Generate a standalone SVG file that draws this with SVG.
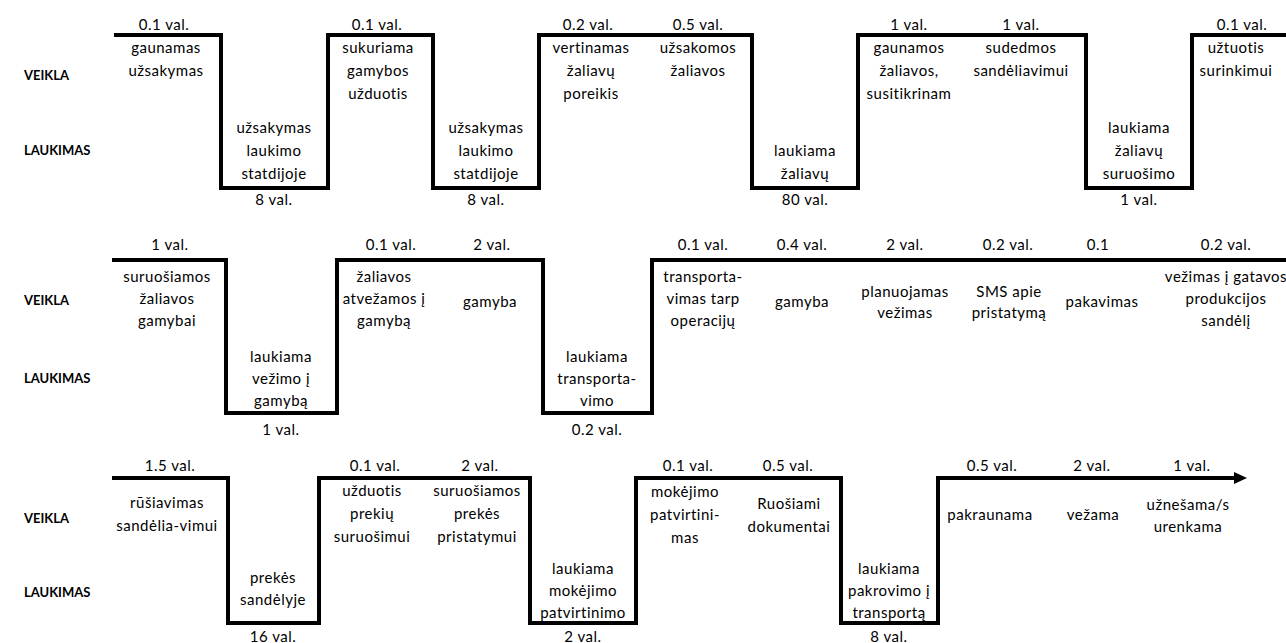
<svg xmlns="http://www.w3.org/2000/svg" width="1286" height="643" viewBox="0 0 1286 643">
  <style>
    .t { font-family: Lato, "Open Sans", "Liberation Sans", sans-serif; font-size: 15px; letter-spacing: 0.5px; fill: #000; text-anchor: middle; }
    .h { font-family: Lato, "Open Sans", "Liberation Sans", sans-serif; font-size: 13px; font-weight: bold; fill: #000; }
    .flow { fill: none; stroke: #000; stroke-width: 4; stroke-linejoin: miter; stroke-linecap: butt; }
  </style>
  <defs>
    <marker id="arrow" viewBox="0 0 13 12" refX="0" refY="6" markerWidth="13" markerHeight="12" orient="auto" markerUnits="userSpaceOnUse">
      <path d="M0,0 L13,6 L0,12 Z" fill="#000"/>
    </marker>
  </defs>
  <rect width="1286" height="643" fill="#fff"/>

  <!-- step lines: high = activity, low = waiting -->
  <g id="connectors">
    <path class="flow" d="M114,35 H221 V188 H328 V35 H433 V188 H539 V35 H752 V188 H858 V35 H1086 V188 H1192 V35 H1286"/>
    <path class="flow" d="M112,260 H226 V413 H337 V260 H543 V413 H652 V260 H1286"/>
    <path class="flow" d="M112,478 H228 V623 H319 V478 H530 V623 H636 V478 H841 V623 H938 V478 H1234" marker-end="url(#arrow)"/>
  </g>

  <!-- row labels -->
  <g id="labels">
    <text class="h" x="24" y="80">VEIKLA</text>
    <text class="h" x="24" y="155">LAUKIMAS</text>
    <text class="h" x="24" y="305">VEIKLA</text>
    <text class="h" x="24" y="383">LAUKIMAS</text>
    <text class="h" x="24" y="523">VEIKLA</text>
    <text class="h" x="24" y="597">LAUKIMAS</text>
  </g>

  <!-- row 1 -->
  <g id="r1s1"><text class="t" x="164" y="30">0.1 val.</text>
    <text class="t" x="166" y="53">gaunamas<tspan x="166" dy="23">užsakymas</tspan></text></g>
  <g id="r1w1"><text class="t" x="274" y="133">užsakymas<tspan x="274" dy="23">laukimo</tspan><tspan x="274" dy="23">statdijoje</tspan></text>
    <text class="t" x="274" y="205">8 val.</text></g>
  <g id="r1s2"><text class="t" x="377" y="30">0.1 val.</text>
    <text class="t" x="378" y="53">sukuriama<tspan x="378" dy="23">gamybos</tspan><tspan x="378" dy="23">užduotis</tspan></text></g>
  <g id="r1w2"><text class="t" x="486" y="133">užsakymas<tspan x="486" dy="23">laukimo</tspan><tspan x="486" dy="23">statdijoje</tspan></text>
    <text class="t" x="486" y="205">8 val.</text></g>
  <g id="r1s3"><text class="t" x="588" y="30">0.2 val.</text>
    <text class="t" x="591" y="53">vertinamas<tspan x="591" dy="23">žaliavų</tspan><tspan x="591" dy="23">poreikis</tspan></text></g>
  <g id="r1s4"><text class="t" x="698" y="30">0.5 val.</text>
    <text class="t" x="698" y="53">užsakomos<tspan x="698" dy="23">žaliavos</tspan></text></g>
  <g id="r1w3"><text class="t" x="805" y="156">laukiama<tspan x="805" dy="23">žaliavų</tspan></text>
    <text class="t" x="805" y="205">80 val.</text></g>
  <g id="r1s5"><text class="t" x="909" y="30">1 val.</text>
    <text class="t" x="909" y="53">gaunamos<tspan x="909" dy="23">žaliavos,</tspan><tspan x="909" dy="23">susitikrinam</tspan></text></g>
  <g id="r1s6"><text class="t" x="1021" y="30">1 val.</text>
    <text class="t" x="1021" y="53">sudedmos<tspan x="1021" dy="23">sandėliavimui</tspan></text></g>
  <g id="r1w4"><text class="t" x="1139" y="133">laukiama<tspan x="1139" dy="23">žaliavų</tspan><tspan x="1139" dy="23">suruošimo</tspan></text>
    <text class="t" x="1139" y="205">1 val.</text></g>
  <g id="r1s7"><text class="t" x="1242" y="30">0.1 val.</text>
    <text class="t" x="1236" y="53">užtuotis<tspan x="1236" dy="23">surinkimui</tspan></text></g>

  <!-- row 2 -->
  <g id="r2s1"><text class="t" x="170" y="250">1 val.</text>
    <text class="t" x="167" y="282">suruošiamos<tspan x="167" dy="22">žaliavos</tspan><tspan x="167" dy="22">gamybai</tspan></text></g>
  <g id="r2w1"><text class="t" x="281" y="362">laukiama<tspan x="281" dy="22">vežimo į</tspan><tspan x="281" dy="22">gamybą</tspan></text>
    <text class="t" x="281" y="435">1 val.</text></g>
  <g id="r2s2"><text class="t" x="391" y="250">0.1 val.</text>
    <text class="t" x="384" y="282">žaliavos<tspan x="384" dy="22">atvežamos į</tspan><tspan x="384" dy="22">gamybą</tspan></text></g>
  <g id="r2s3"><text class="t" x="492" y="250">2 val.</text>
    <text class="t" x="490" y="307">gamyba</text></g>
  <g id="r2w2"><text class="t" x="597" y="362">laukiama<tspan x="597" dy="22">transporta-</tspan><tspan x="597" dy="22">vimo</tspan></text>
    <text class="t" x="597" y="435">0.2 val.</text></g>
  <g id="r2s4"><text class="t" x="703" y="250">0.1 val.</text>
    <text class="t" x="703" y="282">transporta-<tspan x="703" dy="22">vimas tarp</tspan><tspan x="703" dy="22">operacijų</tspan></text></g>
  <g id="r2s5"><text class="t" x="802" y="250">0.4 val.</text>
    <text class="t" x="802" y="307">gamyba</text></g>
  <g id="r2s6"><text class="t" x="905" y="250">2 val.</text>
    <text class="t" x="905" y="297">planuojamas<tspan x="905" dy="21">vežimas</tspan></text></g>
  <g id="r2s7"><text class="t" x="1008" y="250">0.2 val.</text>
    <text class="t" x="1009" y="297">SMS apie<tspan x="1009" dy="21">pristatymą</tspan></text></g>
  <g id="r2s8"><text class="t" x="1098" y="250">0.1</text>
    <text class="t" x="1102" y="307">pakavimas</text></g>
  <g id="r2s9"><text class="t" x="1226" y="250">0.2 val.</text>
    <text class="t" x="1226" y="282">vežimas į gatavos<tspan x="1226" dy="22">produkcijos</tspan><tspan x="1226" dy="22">sandėlį</tspan></text></g>

  <!-- row 3 -->
  <g id="r3s1"><text class="t" x="170" y="471">1.5 val.</text>
    <text class="t" x="167" y="508">rūšiavimas<tspan x="167" dy="23">sandėlia-vimui</tspan></text></g>
  <g id="r3w1"><text class="t" x="273" y="583">prekės<tspan x="273" dy="22">sandėlyje</tspan></text>
    <text class="t" x="273" y="642">16 val.</text></g>
  <g id="r3s2"><text class="t" x="375" y="471">0.1 val.</text>
    <text class="t" x="372" y="496">užduotis<tspan x="372" dy="23">prekių</tspan><tspan x="372" dy="23">suruošimui</tspan></text></g>
  <g id="r3s3"><text class="t" x="480" y="471">2 val.</text>
    <text class="t" x="477" y="496">suruošiamos<tspan x="477" dy="23">prekės</tspan><tspan x="477" dy="23">pristatymui</tspan></text></g>
  <g id="r3w2"><text class="t" x="583" y="574">laukiama<tspan x="583" dy="22">mokėjimo</tspan><tspan x="583" dy="22">patvirtinimo</tspan></text>
    <text class="t" x="583" y="642">2 val.</text></g>
  <g id="r3s4"><text class="t" x="688" y="471">0.1 val.</text>
    <text class="t" x="685" y="497">mokėjimo<tspan x="685" dy="23">patvirtini-</tspan><tspan x="685" dy="23">mas</tspan></text></g>
  <g id="r3s5"><text class="t" x="788" y="471">0.5 val.</text>
    <text class="t" x="789" y="509">Ruošiami<tspan x="789" dy="23">dokumentai</tspan></text></g>
  <g id="r3w3"><text class="t" x="889" y="574">laukiama<tspan x="889" dy="22">pakrovimo į</tspan><tspan x="889" dy="22">transportą</tspan></text>
    <text class="t" x="889" y="642">8 val.</text></g>
  <g id="r3s6"><text class="t" x="992" y="471">0.5 val.</text>
    <text class="t" x="990" y="520">pakraunama</text></g>
  <g id="r3s7"><text class="t" x="1092" y="471">2 val.</text>
    <text class="t" x="1093" y="520">vežama</text></g>
  <g id="r3s8"><text class="t" x="1192" y="471">1 val.</text>
    <text class="t" x="1188" y="510">užnešama/s<tspan x="1188" dy="22">urenkama</tspan></text></g>
</svg>
